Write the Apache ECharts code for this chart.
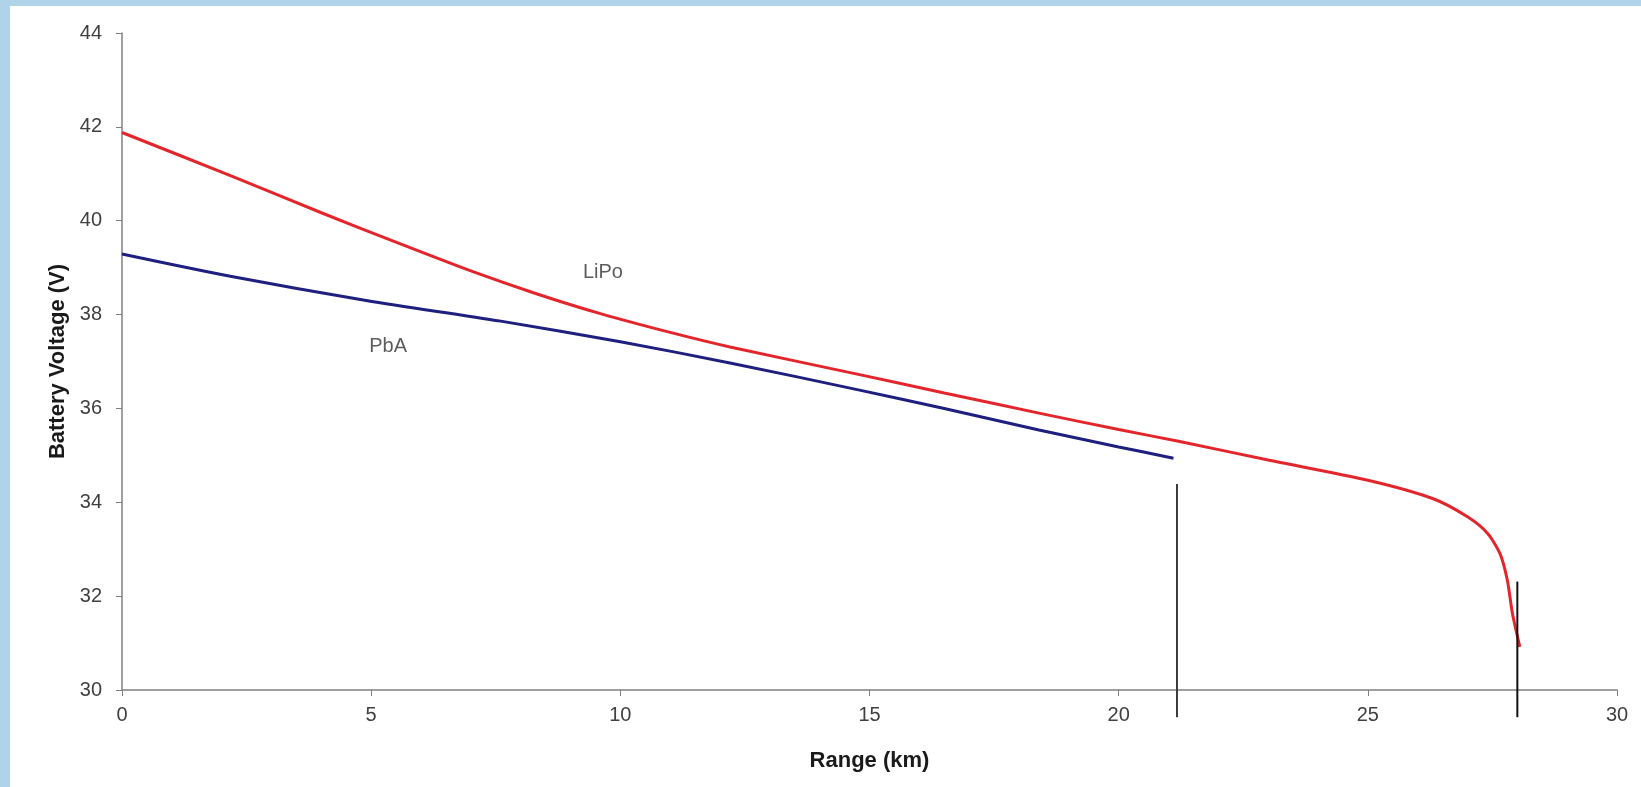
<!DOCTYPE html>
<html>
<head>
<meta charset="utf-8">
<title>Battery voltage vs range</title>
<script src="https://cdn.jsdelivr.net/npm/echarts@6/dist/echarts.min.js"></script>
<style>
  html, body { margin: 0; padding: 0; background: #afd4ea; }
  #main { position: absolute; left: 10px; top: 6px; width: 1631px; height: 781px; background: #fff; }
</style>
</head>
<body>
<div id="main"></div>
<script>
// LiPo pack
var lipoKm = [0, 2.2, 4.0, 5.6, 7.0, 8.3, 9.6, 11.0, 12.2, 14.8, 16.5, 18.4, 20.0, 21.2, 23.0, 25.0, 26.3, 27.0, 27.4, 27.65, 27.8, 27.9, 28.05];
var lipoV  = [41.88, 40.95, 40.17, 39.50, 38.93, 38.45, 38.02, 37.62, 37.31, 36.72, 36.33, 35.90, 35.55, 35.30, 34.90, 34.47, 34.08, 33.69, 33.34, 32.91, 32.34, 31.64, 30.92];

// lead acid pack
var pbaKm = [0, 2.2, 4.9, 7.6, 10.0, 12.2, 14.8, 16.5, 18.4, 20.0, 21.1];
var pbaV  = [39.29, 38.81, 38.30, 37.86, 37.42, 36.97, 36.39, 36.00, 35.54, 35.18, 34.94];

// cut-off markers (vertical lines)
var cutoffKm = [21.17, 28.0];
var cutoffTop = [34.39, 32.31];
var cutoffBottom = 29.42;

// in-plot labels
var labelText = ['LiPo', 'PbA'];
var labelKm = [9.65, 5.34];
var labelV = [38.89, 37.31];

var xTicks = { min: 0, max: 30, step: 5 };
var yTicks = { min: 30, max: 44, step: 2 };

function pairs(xs, ys) {
	var out = [];
	for (var i = 0; i < xs.length; i++) {
		out.push([xs[i], ys[i]]);
	}
	return out;
}

var font = '"Liberation Sans", Arial, sans-serif';
var axisGray = '#808080';

var series = [
	{
		name: 'PbA',
		type: 'line',
		data: pairs(pbaKm, pbaV),
		smooth: 0.3,
		showSymbol: false,
		lineStyle: { color: '#1f1f7f', width: 3 },
		z: 3
	},
	{
		name: 'LiPo',
		type: 'line',
		data: pairs(lipoKm, lipoV),
		smooth: 0.25,
		showSymbol: false,
		lineStyle: { color: '#e3262b', width: 3 },
		z: 4
	}
];

for (var i = 0; i < cutoffKm.length; i++) {
	series.push({
		type: 'line',
		data: [[cutoffKm[i], cutoffTop[i]], [cutoffKm[i], cutoffBottom]],
		clip: false,
		showSymbol: false,
		silent: true,
		lineStyle: { color: i === 0 ? '#3a3a3a' : '#111', width: 2 },
		z: 5
	});
}

var labelData = [];
for (var j = 0; j < labelText.length; j++) {
	labelData.push({ value: [labelKm[j], labelV[j]], name: labelText[j] });
}
series.push({
	type: 'scatter',
	data: labelData,
	symbolSize: 1,
	silent: true,
	itemStyle: { color: 'rgba(0,0,0,0)' },
	label: {
		show: true,
		position: 'inside',
		formatter: '{b}',
		color: '#333',
		fontSize: 20,
		fontFamily: font
	}
});

var myChart = echarts.init(document.getElementById('main'));

var option = {
	animation: false,
	backgroundColor: '#fff',
	grid: { left: 112, right: 24, top: 27, bottom: 97 },
	xAxis: {
		type: 'value',
		min: xTicks.min,
		max: xTicks.max,
		interval: xTicks.step,
		name: 'Range (km)',
		nameLocation: 'middle',
		nameGap: 60,
		nameTextStyle: { fontFamily: font, fontSize: 22, fontWeight: 'bold', color: '#1a1a1a' },
		axisLine: { onZero: false, lineStyle: { color: axisGray, width: 1.5 } },
		axisTick: { show: true, length: 6, lineStyle: { color: axisGray } },
		splitLine: { show: false },
		axisLabel: { fontFamily: font, fontSize: 20, color: '#404040', margin: 15 }
	},
	yAxis: {
		type: 'value',
		min: yTicks.min,
		max: yTicks.max,
		interval: yTicks.step,
		name: 'Battery Voltage (V)',
		nameLocation: 'middle',
		nameGap: 50,
		nameTextStyle: { fontFamily: font, fontSize: 22, fontWeight: 'bold', color: '#1a1a1a' },
		axisLine: { show: true, onZero: false, lineStyle: { color: axisGray, width: 1.5 } },
		axisTick: { show: true, length: 6, lineStyle: { color: axisGray } },
		splitLine: { show: false },
		axisLabel: { fontFamily: font, fontSize: 20, color: '#404040', margin: 20 }
	},
	series: series
};

myChart.setOption(option, true);
</script>
</body>
</html>
